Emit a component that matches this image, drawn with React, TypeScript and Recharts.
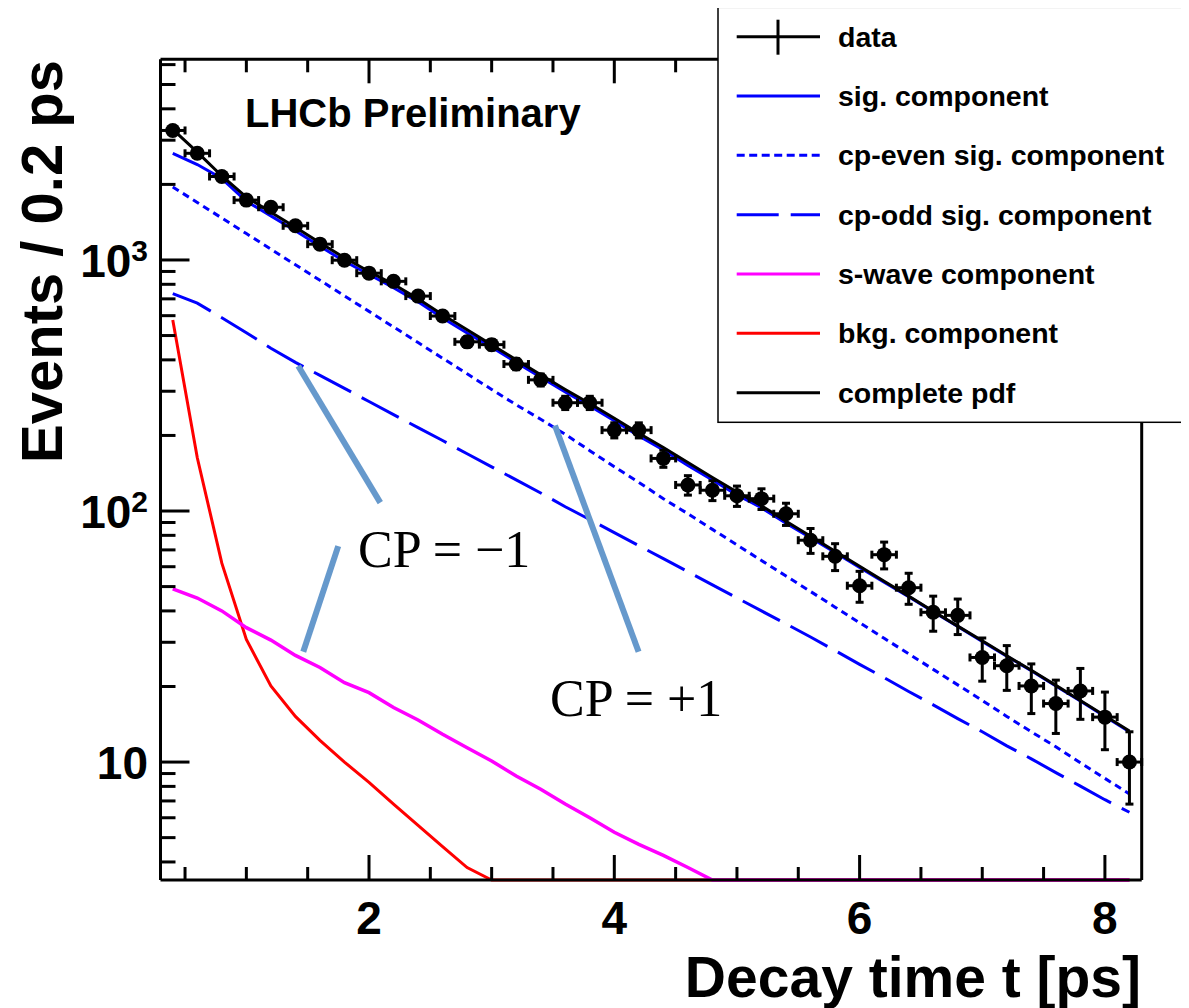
import React from 'react';
import { ComposedChart, Line, Scatter, XAxis, YAxis, ErrorBar, ReferenceLine } from 'recharts';

// ---- data ----
const tValues = [0.4, 0.6, 0.8, 1.0, 1.2, 1.4, 1.6, 1.8, 2.0, 2.2, 2.4, 2.6, 2.8, 3.0, 3.2, 3.4, 3.6, 3.8, 4.0, 4.2,
  4.4, 4.6, 4.8, 5.0, 5.2, 5.4, 5.6, 5.8, 6.0, 6.2, 6.4, 6.6, 6.8, 7.0, 7.2, 7.4, 7.6, 7.8, 8.0, 8.2];
const dataCounts = [3280, 2660, 2150, 1732, 1622, 1368, 1156, 998, 886, 822, 718, 598, 472, 460, 385, 333, 270, 270, 210, 210,
  162, 127, 121, 115, 112, 97.5, 76.5, 66, 50.4, 67, 49.5, 39.5, 38.4, 26.1, 24.2, 20.1, 17.1, 19.2, 15.1, 10];
const dataErrors = [57, 51, 46, 42, 40, 37, 34, 31.6, 29.8, 28.7, 26.8, 24.5, 21.7, 21.4, 19.6, 18.2, 16.4, 16.4, 14.5, 14.5,
  12.7, 11.3, 11, 10.7, 10.6, 9.9, 8.7, 8.1, 7.1, 8.2, 7, 6.3, 6.2, 5.1, 4.9, 4.5, 4.1, 4.4, 3.9, 3.2];
const binHalfWidth = [0.1, 0.1, 0.1, 0.1, 0.1, 0.1, 0.1, 0.1, 0.1, 0.1, 0.1, 0.1, 0.1, 0.1, 0.1, 0.1, 0.1, 0.1, 0.1, 0.1,
  0.1, 0.1, 0.1, 0.1, 0.1, 0.1, 0.1, 0.1, 0.1, 0.1, 0.1, 0.1, 0.1, 0.1, 0.1, 0.1, 0.1, 0.1, 0.1, 0.1];
const completePdf = [3310, 2690, 2160, 1780, 1550, 1350, 1170, 1020, 900, 800, 700, 605, 527, 459, 400, 349, 305, 268, 234, 204,
  179, 156, 136, 119, 105, 91, 79.4, 69.2, 60.3, 52.5, 45.8, 39.9, 34.8, 30.4, 26.5, 23.2, 20.2, 17.6, 15.3, 13.3];
const sigComponent = [2660, 2400, 2110, 1713, 1498, 1307, 1133, 988, 875, 775, 681, 587, 512, 449, 391, 341, 298, 262, 229, 199,
  175, 152, 133, 116, 103, 89.5, 78.2, 68.3, 59.6, 52.1, 45.6, 39.7, 34.7, 30.2, 26.4, 23.1, 20.1, 17.5, 15.2, 13.2];
const cpEvenComponent = [1954, 1694, 1469, 1274, 1104, 957, 830, 719, 624, 541, 469, 406, 352, 305, 265, 232, 202, 174, 150, 130,
  112, 97.5, 84.5, 73.3, 63.5, 55.1, 47.8, 41.4, 35.9, 31.1, 27.0, 23.4, 20.3, 17.6, 15.2, 13.2, 11.5, 9.93, 8.61, 7.46];
const cpOddComponent = [735, 673, 589, 513, 445, 391, 347, 308, 273, 242, 215, 191, 169, 150, 133, 118, 104, 92.5, 82, 72.8,
  64.6, 57.3, 50.8, 45.1, 40, 35.5, 31.5, 27.8, 24.5, 21.7, 19.1, 16.9, 14.9, 13.2, 11.6, 10.3, 9.08, 8.02, 7.08, 6.31];
const sWaveComponent = [49, 45, 40, 34.3, 30.6, 26.6, 23.8, 20.7, 18.9, 16.5, 14.7, 12.9, 11.4, 10.1, 8.8, 7.8, 6.8, 6.0, 5.25, 4.7,
  4.25, 3.8, 3.39, 3.39, 3.39, 3.39, 3.39, 3.39, 3.39, 3.39, 3.39, 3.39, 3.39, 3.39, 3.39, 3.39, 3.39, 3.39, 3.39, 3.39];
const bkgComponent = [577, 163, 62, 30.8, 20.1, 15.2, 12.2, 10.0, 8.3, 6.8, 5.6, 4.6, 3.8, 3.39, 3.39, 3.39, 3.39, 3.39, 3.39, 3.39,
  3.39, 3.39, 3.39, 3.39, 3.39, 3.39, 3.39, 3.39, 3.39, 3.39, 3.39, 3.39, 3.39, 3.39, 3.39, 3.39, 3.39, 3.39, 3.39, 3.39];

const xDomain = [0.3, 8.3];
const yDomain = [3.39, 6300];
const xTicks = [0.5, 1, 1.5, 2, 2.5, 3, 3.5, 4, 4.5, 5, 5.5, 6, 6.5, 7, 7.5, 8];
const xMajor = [2, 4, 6, 8];
const yTicks = [4, 5, 6, 7, 8, 9, 10, 20, 30, 40, 50, 60, 70, 80, 90, 100, 200, 300, 400, 500, 600, 700, 800, 900,
  1000, 2000, 3000, 4000, 5000, 6000];
const yMajor = [10, 100, 1000];
const yMajorLabels = [['10', ''], ['10', '2'], ['10', '3']];

// annotation pointer lines (data coordinates)
const cpMinusLines = [
  [{ x: 1.423, y: 378 }, { x: 2.092, y: 108 }],
  [{ x: 1.749, y: 72.5 }, { x: 1.464, y: 27.5 }],
];
const cpPlusLines = [
  [{ x: 3.516, y: 219 }, { x: 4.198, y: 27.5 }],
];

const chartData = tValues.map((t, i) => ({
  t,
  data: dataCounts[i],
  yErr: dataErrors[i],
  xErr: binHalfWidth[i],
  complete: completePdf[i],
  sig: sigComponent[i],
  even: cpEvenComponent[i],
  odd: cpOddComponent[i],
  swave: sWaveComponent[i],
  bkg: bkgComponent[i],
}));

const SANS = "'Liberation Sans', Arial, Helvetica, sans-serif";
const SERIF = "'Liberation Serif', 'Times New Roman', Times, serif";
const near = (v: number, list: number[]) => list.findIndex((m) => Math.abs(v - m) < 1e-6);

const BottomTick = (p: any) => {
  const v = p.payload.value;
  const major = near(v, xMajor) >= 0;
  return (
    <g>
      <line x1={p.x} y1={p.y} x2={p.x} y2={p.y - (major ? 25 : 13)} stroke="#000" strokeWidth={3} />
      {major && (
        <text x={p.x} y={p.y + 54} textAnchor="middle" fontFamily={SANS} fontWeight={700} fontSize={46} fill="#000">
          {String(v)}
        </text>
      )}
    </g>
  );
};
const TopTick = (p: any) => {
  const major = near(p.payload.value, xMajor) >= 0;
  return <line x1={p.x} y1={p.y} x2={p.x} y2={p.y + (major ? 24 : 13)} stroke="#000" strokeWidth={3} />;
};
const LeftTick = (p: any) => {
  const idx = near(p.payload.value, yMajor);
  const major = idx >= 0;
  return (
    <g>
      <line x1={p.x} y1={p.y} x2={p.x + (major ? 29 : 15)} y2={p.y} stroke="#000" strokeWidth={3} />
      {major && (
        <text x={p.x - 12.5} y={p.y + 17} textAnchor="end" fontFamily={SANS} fontWeight={700} fontSize={46} fill="#000">
          {yMajorLabels[idx][0]}
          {yMajorLabels[idx][1] && (
            <tspan dy={-16} fontSize={30}>{yMajorLabels[idx][1]}</tspan>
          )}
        </text>
      )}
    </g>
  );
};
const RightTick = (p: any) => {
  const major = near(p.payload.value, yMajor) >= 0;
  return <line x1={p.x} y1={p.y} x2={p.x - (major ? 27 : 13)} y2={p.y} stroke="#000" strokeWidth={3} />;
};

const DataDot = (p: any) => <circle cx={p.cx} cy={p.cy} r={7.5} fill="#000" />;

const legendRows = [
  { label: 'data', color: '#000', dash: undefined, isData: true },
  { label: 'sig. component', color: '#0000ff', dash: undefined },
  { label: 'cp-even sig. component', color: '#0000ff', dash: '8 4.5' },
  { label: 'cp-odd sig. component', color: '#0000ff', dash: '42 12' },
  { label: 's-wave component', color: '#ff00ff', dash: undefined },
  { label: 'bkg. component', color: '#ff0000', dash: undefined },
  { label: 'complete pdf', color: '#000', dash: undefined },
];

const axisLine = { stroke: '#000', strokeWidth: 3 };

export default function App() {
  return (
    <div style={{ position: 'relative', width: 1181, height: 1000 }}>
      <ComposedChart width={1181} height={1000} data={chartData}
        margin={{ top: 31.3, right: 27.3, bottom: 88, left: 92.5 }}>
        <XAxis xAxisId="b" dataKey="t" type="number" orientation="bottom" domain={xDomain} ticks={xTicks} interval={0}
          allowDataOverflow tickSize={0} tickMargin={0} tickLine={false} axisLine={axisLine} height={40}
          tick={(p: any) => <BottomTick {...p} />} />
        <XAxis xAxisId="t" dataKey="t" type="number" orientation="top" domain={xDomain} ticks={xTicks} interval={0}
          allowDataOverflow tickSize={0} tickMargin={0} tickLine={false} axisLine={axisLine} height={20}
          tick={(p: any) => <TopTick {...p} />} />
        <YAxis yAxisId="l" type="number" scale="log" orientation="left" domain={yDomain} ticks={yTicks} interval={0}
          tickSize={0} tickMargin={0} tickLine={false} axisLine={axisLine} width={60}
          tick={(p: any) => <LeftTick {...p} />} />
        <YAxis yAxisId="r" type="number" scale="log" orientation="right" domain={yDomain} ticks={yTicks} interval={0}
          tickSize={0} tickMargin={0} tickLine={false} axisLine={axisLine} width={20}
          tick={(p: any) => <RightTick {...p} />} />

        <Line xAxisId="b" yAxisId="l" type="linear" dataKey="bkg" stroke="#ff0000" strokeWidth={3} dot={false}
          activeDot={false} isAnimationActive={false} />
        <Line xAxisId="b" yAxisId="l" type="linear" dataKey="swave" stroke="#ff00ff" strokeWidth={3.5} dot={false}
          activeDot={false} isAnimationActive={false} />
        <Line xAxisId="b" yAxisId="l" type="linear" dataKey="odd" stroke="#0000ff" strokeWidth={3} strokeDasharray="42 12"
          dot={false} activeDot={false} isAnimationActive={false} />
        <Line xAxisId="b" yAxisId="l" type="linear" dataKey="even" stroke="#0000ff" strokeWidth={3} strokeDasharray="7 5"
          dot={false} activeDot={false} isAnimationActive={false} />
        <Line xAxisId="b" yAxisId="l" type="linear" dataKey="sig" stroke="#0000ff" strokeWidth={3} dot={false}
          activeDot={false} isAnimationActive={false} />
        <Line xAxisId="b" yAxisId="l" type="linear" dataKey="complete" stroke="#000" strokeWidth={3} dot={false}
          activeDot={false} isAnimationActive={false} />
        <Scatter xAxisId="b" yAxisId="l" dataKey="data" shape={DataDot} isAnimationActive={false}>
          <ErrorBar dataKey="yErr" direction="y" width={4} stroke="#000" strokeWidth={3} isAnimationActive={false} />
          <ErrorBar dataKey="xErr" direction="x" width={4} stroke="#000" strokeWidth={3} isAnimationActive={false} />
        </Scatter>

        {[...cpMinusLines, ...cpPlusLines].map((seg, i) => (
          <ReferenceLine key={i} xAxisId="b" yAxisId="l" segment={seg} stroke="#6699cc" strokeWidth={6}
            ifOverflow="visible" />
        ))}
      </ComposedChart>

      <svg width={1189} height={1008} style={{ position: 'absolute', left: -8, top: -8, pointerEvents: 'none' }}>
        <text x={62} y={60} transform="rotate(-90 62 60)" textAnchor="end" fontFamily={SANS} fontWeight={700}
          fontSize={58} fill="#000">Events / 0.2 ps</text>
        <text x={1141} y={997} textAnchor="end" fontFamily={SANS} fontWeight={700} fontSize={57}
          fill="#000">Decay time t [ps]</text>
        <text x={245} y={127.3} fontFamily={SANS} fontWeight={700} fontSize={40} fill="#000">LHCb Preliminary</text>
        <text x={358} y={567} fontFamily={SERIF} fontSize={52} fill="#000">CP = −1</text>
        <text x={550} y={716} fontFamily={SERIF} fontSize={52} fill="#000">CP = +1</text>

        <rect x={718} y={7.3} width={520} height={415} fill="#fff" stroke="#000" strokeWidth={1.5} />
        {legendRows.map((r, i) => {
          const y = 36.7 + i * 59.33;
          return (
            <g key={r.label}>
              <line x1={736.7} y1={y} x2={820} y2={y} stroke={r.color} strokeWidth={3} strokeDasharray={r.dash} />
              {r.isData && <line x1={778} y1={y - 17} x2={778} y2={y + 18} stroke="#000" strokeWidth={3} />}
              <text x={838} y={y + 10} fontFamily={SANS} fontWeight={700} fontSize={28.5} fill="#000">{r.label}</text>
            </g>
          );
        })}
      </svg>
    </div>
  );
}
